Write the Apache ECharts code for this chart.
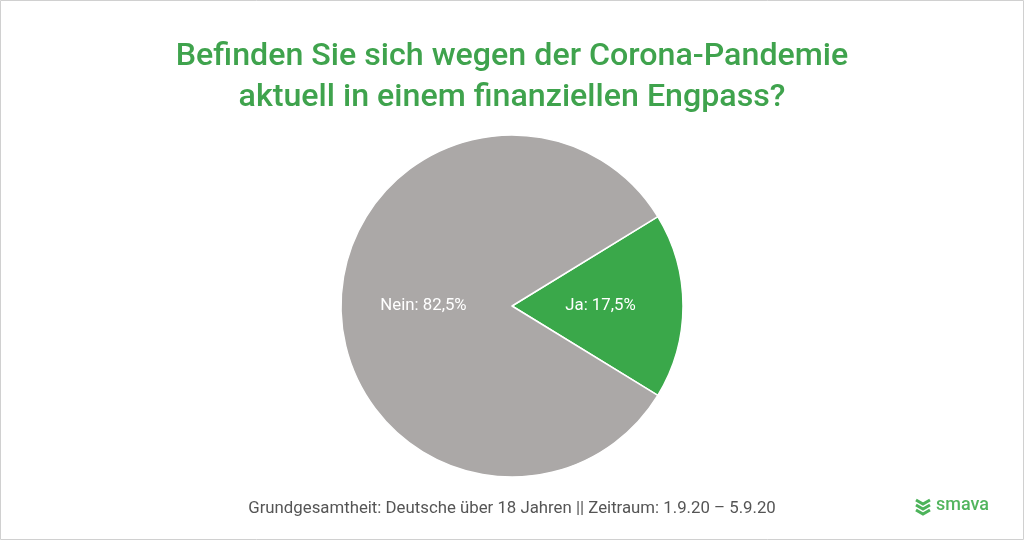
<!DOCTYPE html>
<html>
<head>
<meta charset="utf-8">
<script src="https://cdn.jsdelivr.net/npm/echarts@6/dist/echarts.min.js"></script>
<style>
html,body{margin:0;padding:0;background:#fff;}
#c{width:1024px;height:540px;}
</style>
</head>
<body>
<div id="c"></div>
<script>
const categories = ['Ja', 'Nein'];
const values = [17.5, 82.5];
const colors = ['#3aa84a', '#aba8a7'];
const titleText = 'Befinden Sie sich wegen der Corona-Pandemie\naktuell in einem finanziellen Engpass?';
const footerText = 'Grundgesamtheit: Deutsche über 18 Jahren || Zeitraum: 1.9.20 – 5.9.20';

const chart = echarts.init(document.getElementById('c'));
chart.setOption({
  backgroundColor: '#fff',
  animation: false,
  title: {
    text: titleText,
    left: 'center',
    top: 31,
    textStyle: {
      fontFamily: 'Roboto',
      fontWeight: 500,
      fontSize: 32.2,
      lineHeight: 41,
      color: '#3fa34d'
    }
  },
  graphic: [
    {
      type: 'rect',
      shape: {x: 0.5, y: 0.5, width: 1023, height: 539},
      style: {fill: 'none', stroke: '#d0d0d0', lineWidth: 1}
    },
    {
      type: 'text',
      left: 'center',
      top: 500,
      style: {text: footerText, font: '16.8px Roboto', fill: '#555555'}
    },
    {
      type: 'polyline',
      shape: {points: [[916, 500], [923, 504], [930, 500]]},
      style: {stroke: '#4cb35a', lineWidth: 3, fill: 'none'}
    },
    {
      type: 'polyline',
      shape: {points: [[916, 505], [923, 509], [930, 505]]},
      style: {stroke: '#4cb35a', lineWidth: 3, fill: 'none'}
    },
    {
      type: 'polyline',
      shape: {points: [[916, 510], [923, 514], [930, 510]]},
      style: {stroke: '#4cb35a', lineWidth: 3, fill: 'none'}
    },
    {
      type: 'text',
      left: 936,
      top: 496,
      style: {text: 'smava', font: '500 18px Roboto', fill: '#52b55e'}
    }
  ],
  series: [{
    type: 'pie',
    center: [512, 306],
    radius: 171,
    startAngle: 31.5,
    clockwise: true,
    data: categories.map((c, i) => ({name: c, value: values[i], itemStyle: {color: colors[i]}})),
    itemStyle: {borderColor: '#ffffff', borderWidth: 1.5},
    label: {
      position: 'inner',
      formatter: p => p.name + ': ' + p.value.toFixed(1).replace('.', ',') + '%',
      color: '#ffffff',
      fontFamily: 'Roboto',
      fontSize: 16.8
    },
    labelLine: {show: false},
    emphasis: {disabled: true}
  }]
});
</script>
</body>
</html>
